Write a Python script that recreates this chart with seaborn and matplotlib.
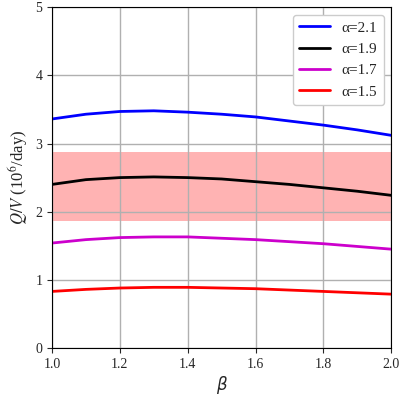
import matplotlib
matplotlib.use("Agg")
import matplotlib.pyplot as plt
import seaborn as sns
import pandas as pd

beta = [1.0, 1.1, 1.2, 1.3, 1.4, 1.5, 1.6, 1.7, 1.8, 1.9, 2.0]
q21 = [3.36, 3.43, 3.47, 3.48, 3.46, 3.43, 3.39, 3.33, 3.27, 3.20, 3.12]
q19 = [2.40, 2.47, 2.50, 2.51, 2.50, 2.48, 2.44, 2.40, 2.35, 2.30, 2.24]
q17 = [1.54, 1.59, 1.62, 1.63, 1.63, 1.61, 1.59, 1.56, 1.53, 1.49, 1.45]
q15 = [0.83, 0.86, 0.88, 0.89, 0.89, 0.88, 0.87, 0.85, 0.83, 0.81, 0.79]
labels = ["α=2.1", "α=1.9", "α=1.7", "α=1.5"]
colors = ["#0000ff", "#000000", "#cc00cc", "#ff0000"]
band = (1.87, 2.88)

sns.set_style("white")
plt.rcParams['font.family'] = ['Liberation Serif', 'DejaVu Serif']
plt.rcParams['mathtext.fontset'] = 'stix'
plt.rcParams['xtick.bottom'] = True
plt.rcParams['ytick.left'] = True

rows = []
for lab, vals in zip(labels, [q21, q19, q17, q15]):
    for b, v in zip(beta, vals):
        rows.append({"beta": b, "Q": v, "series": lab})
df = pd.DataFrame(rows)

fig = plt.figure(figsize=(4, 4), dpi=100)
ax = fig.add_axes([0.13, 0.13, 0.848, 0.852])
ax.axhspan(band[0], band[1], color="#ffb3b3", zorder=0, lw=0)
sns.lineplot(data=df, x="beta", y="Q", hue="series", palette=colors, ax=ax, lw=2)
ax.set_xlim(1, 2)
ax.set_ylim(0, 5)
ax.set_xticks([1.0, 1.2, 1.4, 1.6, 1.8, 2.0])
ax.grid(True, color="#b0b0b0", lw=1)
ax.set_axisbelow(True)
ax.set_xlabel("β", family="DejaVu Sans", style="italic", fontsize=12)
ax.set_ylabel("$Q/V$ (10$^6$/day)", fontsize=12)
ax.tick_params(labelsize=10, direction="out", length=3.5, bottom=True, left=True)
for s in ax.spines.values():
    s.set_color("black")
leg = ax.legend(loc="upper right", fontsize=11, frameon=True, framealpha=1, edgecolor="#cccccc", fancybox=True)
fig.savefig("out.png", dpi=100)
